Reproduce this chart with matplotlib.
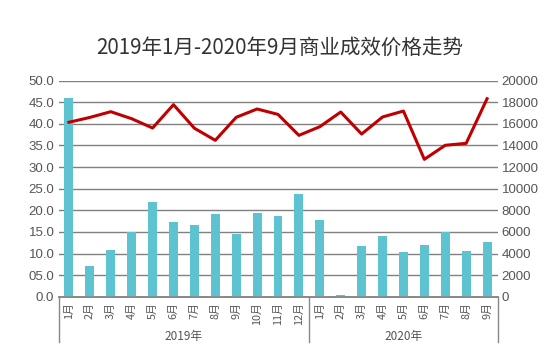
import matplotlib
matplotlib.use("Agg")
import matplotlib.pyplot as plt
import matplotlib.transforms as mtransforms

plt.rcParams['font.family'] = ['Noto Sans CJK SC', 'DejaVu Sans']

months = ["1月", "2月", "3月", "4月", "5月", "6月", "7月", "8月", "9月", "10月", "11月", "12月",
          "1月", "2月", "3月", "4月", "5月", "6月", "7月", "8月", "9月"]
years = ["2019年", "2020年"]
year_counts = [12, 9]
volume = [45.9, 7.1, 10.7, 15.0, 21.9, 17.4, 16.6, 19.1, 14.5, 19.4, 18.7, 23.8,
          17.8, 0.3, 11.7, 14.1, 10.3, 12.0, 14.9, 10.6, 12.7]
price = [16150, 16600, 17130, 16480, 15620, 17780, 15600, 14480, 16610, 17380, 16880, 14940,
         15740, 17100, 15060, 16640, 17190, 12720, 14020, 14200, 18330]
left_ticks = [0, 5, 10, 15, 20, 25, 30, 35, 40, 45, 50]
left_labels = ["0.0", "05.0", "10.0", "15.0", "20.0", "25.0", "30.0", "35.0", "40.0", "45.0", "50.0"]
right_ticks = [0, 2000, 4000, 6000, 8000, 10000, 12000, 14000, 16000, 18000, 20000]
title = "2019年1月-2020年9月商业成效价格走势"

W, H = 559, 352
fig = plt.figure(figsize=(W / 100, H / 100), dpi=100)
ax = fig.add_axes([58.5 / W, (H - 296.7) / H, (497.5 - 58.5) / W, (296.7 - 80.7) / H])
ax2 = ax.twinx()

x = list(range(len(months)))
ax.bar(x, volume, width=0.43, color="#5EC3D0", zorder=3)
ax.set_ylim(0, 50)
ax.set_xlim(-0.5, len(months) - 0.5)
ax.set_yticks(left_ticks)
ax.set_yticklabels(left_labels, family=['Liberation Sans'], fontsize=9.5, color="#555555")
ax.grid(axis='y', color="#808080", linewidth=1.0, zorder=0)
ax.set_axisbelow(True)

ax2.plot(x, price, color="#C00000", linewidth=2.2, zorder=4)
ax2.set_ylim(0, 20000)
ax2.set_yticks(right_ticks)
ax2.set_yticklabels([str(t) for t in right_ticks], family=['Liberation Sans'], fontsize=9.5, color="#555555")

for a in (ax, ax2):
    for s in ("top", "left", "right"):
        a.spines[s].set_visible(False)
    a.spines["bottom"].set_color("#888888")
    a.spines["bottom"].set_linewidth(1.2)
ax.tick_params(axis='y', length=0, pad=3)
ax2.tick_params(axis='y', length=0, pad=3)

ax.set_xticks(x)
ax.set_xticklabels(months, rotation=90, fontsize=7.8, color="#555555")
ax.tick_params(axis='x', length=0, pad=4)

trans = mtransforms.blended_transform_factory(ax.transData, ax.transAxes)
sep_h = 45.5 / (296.7 - 80.7)
bounds = [-0.5]
for c in year_counts:
    bounds.append(bounds[-1] + c)
for b in bounds:
    ax.plot([b, b], [0, -sep_h], transform=trans, color="#888888", linewidth=1.0, clip_on=False)
for i, yl in enumerate(years):
    cx = (bounds[i] + bounds[i + 1]) / 2
    ax.text(cx, -39.5 / 216, yl, transform=trans, ha='center', va='center', fontsize=8.5, color="#555555")

fig.text(0.5, (H - 48) / H, title, ha='center', va='center', fontsize=14.8, color="#333333", fontweight='medium')

fig.savefig("out.png", dpi=100)
